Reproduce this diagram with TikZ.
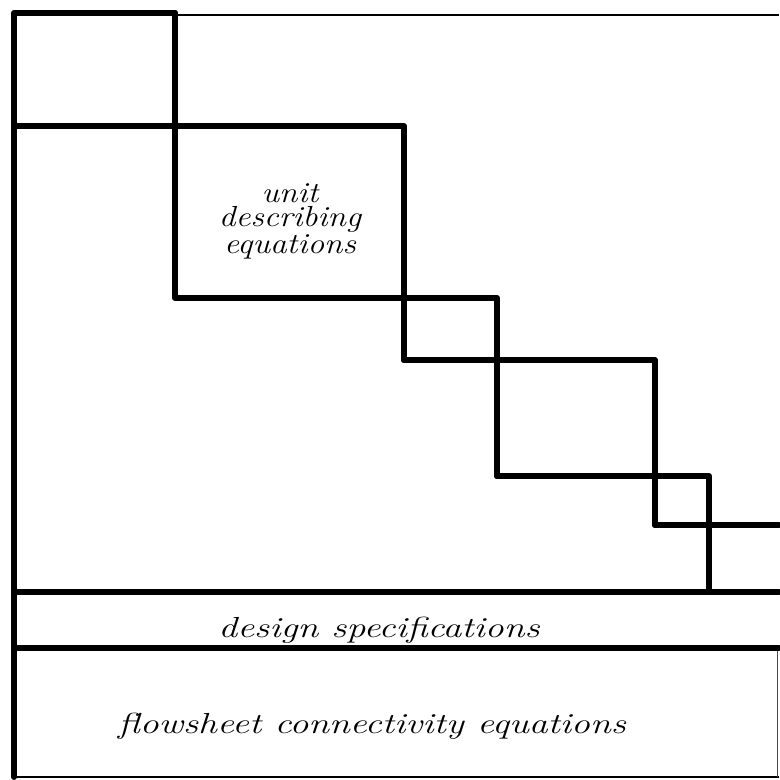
\documentclass[tikz,border=0pt]{standalone}
\usepackage{tikz}
\usetikzlibrary{positioning}

\begin{document}
\begin{tikzpicture}[
  x=0.02cm, y=-0.02cm,
  heavy/.style={line width=3.4pt, line join=round, line cap=round},
  light/.style={line width=1.6pt},
  hair/.style={line width=0.5pt, black!70},
  blocktext/.style={align=center, inner sep=0pt, xscale=1.15, transform shape,
    font=\fontsize{16.5}{14}\selectfont\itshape},
  bandtext/.style={blocktext, anchor=base, xscale=1.13}
]
  \useasboundingbox (0,0) rectangle (779,780);

  % outer frame
  \draw[light] (175,15) -- (779,15);
  \draw[heavy] (175,13) -- (14,13) -- (14,777);
  \draw[light] (14,777) -- (779,777);
  \draw[hair] (777,648) -- (777,777);

  % staircase of unit blocks
  \draw[heavy] (14,126) -- (404,126) -- (404,360);
  \draw[heavy] (175,13) -- (175,298) -- (497,298) -- (497,476);
  \draw[heavy] (404,360) -- (655,360) -- (655,525);
  \draw[heavy] (497,476) -- (709,476) -- (709,592);
  \draw[heavy] (655,525) -- (779,525);

  % bottom bands
  \draw[heavy] (14,592) -- (779,592);
  \draw[heavy] (14,648) -- (779,648);

  \node[blocktext] (unit) at (290,221) {unit\\describing\\equations};
  \node[bandtext] (design) at (379,637) {design specifications};
  \node[bandtext] (flowsheet) at (372,733) {flowsheet connectivity equations};
\end{tikzpicture}
\end{document}
